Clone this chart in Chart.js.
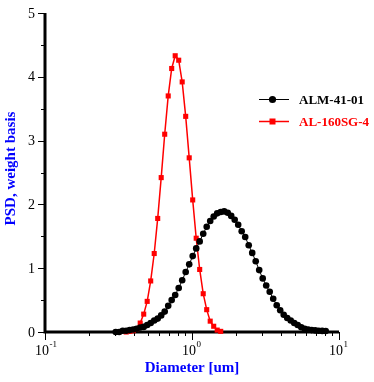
<!DOCTYPE html>
<html>
<head>
<meta charset="utf-8">
<script src="https://cdn.jsdelivr.net/npm/chart.js@4.4.0/dist/chart.umd.min.js"></script>
<style>
  body { margin: 0; background: #fff; }
  #wrap { width: 374px; height: 382px; }
</style>
</head>
<body>
<div id="wrap"><canvas id="chart" width="374" height="382"></canvas></div>
<script>
// size bins, um (shared by both samples)
const diameters = [
  0.3027, 0.3197, 0.3378, 0.3569, 0.3770, 0.3981, 0.4205, 0.4443, 0.4693, 0.4957,
  0.5236, 0.5533, 0.5844, 0.6173, 0.6521, 0.6889, 0.7275, 0.7686, 0.8119, 0.8576,
  0.9059, 0.9572, 1.011, 1.068, 1.128, 1.192, 1.259, 1.330, 1.405, 1.484,
  1.568, 1.656, 1.750, 1.848, 1.952, 2.062, 2.178, 2.301, 2.431, 2.568,
  2.713, 2.865, 3.027, 3.197, 3.378, 3.568, 3.770, 3.981, 4.206, 4.443,
  4.693, 4.958, 5.236, 5.534, 5.845, 6.174, 6.522, 6.889, 7.277, 7.686,
  8.120
]

// PSD, weight basis
const alm4101 = [
  0.00, 0.00, 0.02, 0.02, 0.03, 0.04, 0.05, 0.07, 0.08, 0.11,
  0.14, 0.18, 0.21, 0.26, 0.32, 0.41, 0.50, 0.58, 0.69, 0.81,
  0.94, 1.06, 1.19, 1.31, 1.42, 1.54, 1.65, 1.74, 1.81, 1.86,
  1.88, 1.89, 1.87, 1.82, 1.76, 1.68, 1.58, 1.49, 1.36, 1.24,
  1.11, 0.97, 0.84, 0.73, 0.63, 0.52, 0.42, 0.34, 0.27, 0.22,
  0.18, 0.14, 0.11, 0.075, 0.05, 0.04, 0.03, 0.025, 0.02, 0.017,
  0.015
]

// starts at diameters[al160First]
const al160First = 3
const al160sg4 = [
  0.00, 0.01, 0.02, 0.05, 0.14, 0.28, 0.48, 0.80, 1.23, 1.78,
  2.42, 3.10, 3.70, 4.13, 4.33, 4.26, 3.92, 3.38, 2.73, 2.07,
  1.47, 0.98, 0.60, 0.35, 0.17, 0.09, 0.03, 0.01
]

const seriesNames = ['ALM-41-01', 'AL-160SG-4']
const yLabels = [0, 1, 2, 3, 4, 5]
const yMinor = [0.5, 1.5, 2.5, 3.5, 4.5]
const xDecades = [0.1, 1, 10]
const xExponents = ['-1', '0', '1']
const xMinor = [0.2, 0.3, 0.4, 0.5, 0.6, 0.7, 0.8, 0.9, 2, 3, 4, 5, 6, 7, 8, 9]

const serif = '"Liberation Serif", "Times New Roman", serif'
const blue = '#0000ff'

const almData = diameters.map((d, i) => ({ x: d, y: alm4101[i] }))
const alData = al160sg4.map((v, i) => ({ x: diameters[i + al160First], y: v }))

// axes, ticks and labels drawn by hand (old plotting package look)
const axesPlugin = {
  id: 'axes',
  beforeDatasetsDraw(chart) {
    const { ctx, chartArea: a, scales } = chart
    const x = scales.x, y = scales.y
    ctx.save()
    ctx.strokeStyle = '#000'
    ctx.lineWidth = 1
    ctx.beginPath()
    yLabels.forEach(v => {
      const py = Math.round(y.getPixelForValue(v)) + 0.5
      ctx.moveTo(a.left - 7, py); ctx.lineTo(a.left, py)
    })
    yMinor.forEach(v => {
      const py = Math.round(y.getPixelForValue(v)) + 0.5
      ctx.moveTo(a.left - 4, py); ctx.lineTo(a.left, py)
    })
    xDecades.forEach(v => {
      const px = Math.round(x.getPixelForValue(v)) + 0.5
      ctx.moveTo(px, a.bottom); ctx.lineTo(px, a.bottom + 8)
    })
    xMinor.forEach(v => {
      const px = Math.round(x.getPixelForValue(v)) + 0.5
      ctx.moveTo(px, a.bottom); ctx.lineTo(px, a.bottom + 4)
    })
    ctx.stroke()

    ctx.lineWidth = 3
    ctx.beginPath()
    ctx.moveTo(a.left, a.top)
    ctx.lineTo(a.left, a.bottom)
    ctx.lineTo(a.right, a.bottom)
    ctx.stroke()

    // tick labels
    ctx.fillStyle = '#000'
    ctx.font = '14px ' + serif
    ctx.textAlign = 'right'
    ctx.textBaseline = 'middle'
    yLabels.forEach(v => ctx.fillText(String(v), a.left - 10, y.getPixelForValue(v) + 1))

    ctx.textBaseline = 'alphabetic'
    xDecades.forEach((v, i) => {
      const px = x.getPixelForValue(v)
      ctx.font = '14px ' + serif
      ctx.textAlign = 'right'
      ctx.fillText('10', px + 4, a.bottom + 23)
      ctx.font = '9px ' + serif
      ctx.textAlign = 'left'
      ctx.fillText(xExponents[i], px + 4.5, a.bottom + 15)
    })

    // axis titles
    ctx.fillStyle = blue
    ctx.font = 'bold 15px ' + serif
    ctx.textAlign = 'center'
    ctx.fillText('Diameter [um]', (a.left + a.right) / 2, 372)
    ctx.save()
    ctx.translate(15, (a.top + a.bottom) / 2 - 4)
    ctx.rotate(-Math.PI / 2)
    ctx.fillText('PSD, weight basis', 0, 0)
    ctx.restore()
    ctx.restore()
  },
  afterDraw(chart) {
    const { ctx } = chart
    ctx.save()
    const rows = [
      { name: seriesNames[0], color: '#000', y: 99, style: 'circle' },
      { name: seriesNames[1], color: '#ff0000', y: 121, style: 'rect' }
    ]
    rows.forEach(r => {
      ctx.strokeStyle = r.color
      ctx.fillStyle = r.color
      ctx.lineWidth = r.style == 'rect' ? 1.5 : 1
      ctx.beginPath()
      ctx.moveTo(259, r.y + 0.5); ctx.lineTo(289, r.y + 0.5)
      ctx.stroke()
      if (r.style == 'circle') {
        ctx.beginPath()
        ctx.arc(272.5, r.y + 0.5, 3.6, 0, Math.PI * 2)
        ctx.fill()
      } else {
        ctx.fillRect(269.5, r.y - 2.5, 6, 6)
      }
      ctx.font = 'bold 13px ' + serif
      ctx.textAlign = 'left'
      ctx.textBaseline = 'alphabetic'
      ctx.fillText(r.name, 299, r.y + 4.5)
    })
    ctx.restore()
  }
}

const ctx = document.getElementById('chart').getContext('2d')

const config = {
  type: 'line',
  data: {
    datasets: [{
      label: seriesNames[0],
      data: almData,
      borderColor: '#000',
      backgroundColor: '#000',
      borderWidth: 1,
      pointStyle: 'circle',
      pointRadius: 3.3,
      pointBorderWidth: 0,
      clip: 6
    },
    {
      label: seriesNames[1],
      data: alData,
      borderColor: '#ff0000',
      backgroundColor: '#ff0000',
      borderWidth: 1.5,
      pointStyle: 'rect',
      pointRadius: 3.6,
      pointBorderWidth: 0,
      clip: 6
    }]
  },
  options: {
    responsive: false,
    animation: false,
    devicePixelRatio: 1,
    layout: { padding: { left: 45, right: 35, top: 13, bottom: 50 } },
    plugins: { legend: { display: false }, tooltip: { enabled: false } },
    scales: {
      x: { type: 'logarithmic', min: 0.1, max: 10, display: false },
      y: { type: 'linear', min: 0, max: 5, display: false }
    }
  },
  plugins: [axesPlugin]
}

const myChart = new Chart(ctx, config)
</script>
</body>
</html>
